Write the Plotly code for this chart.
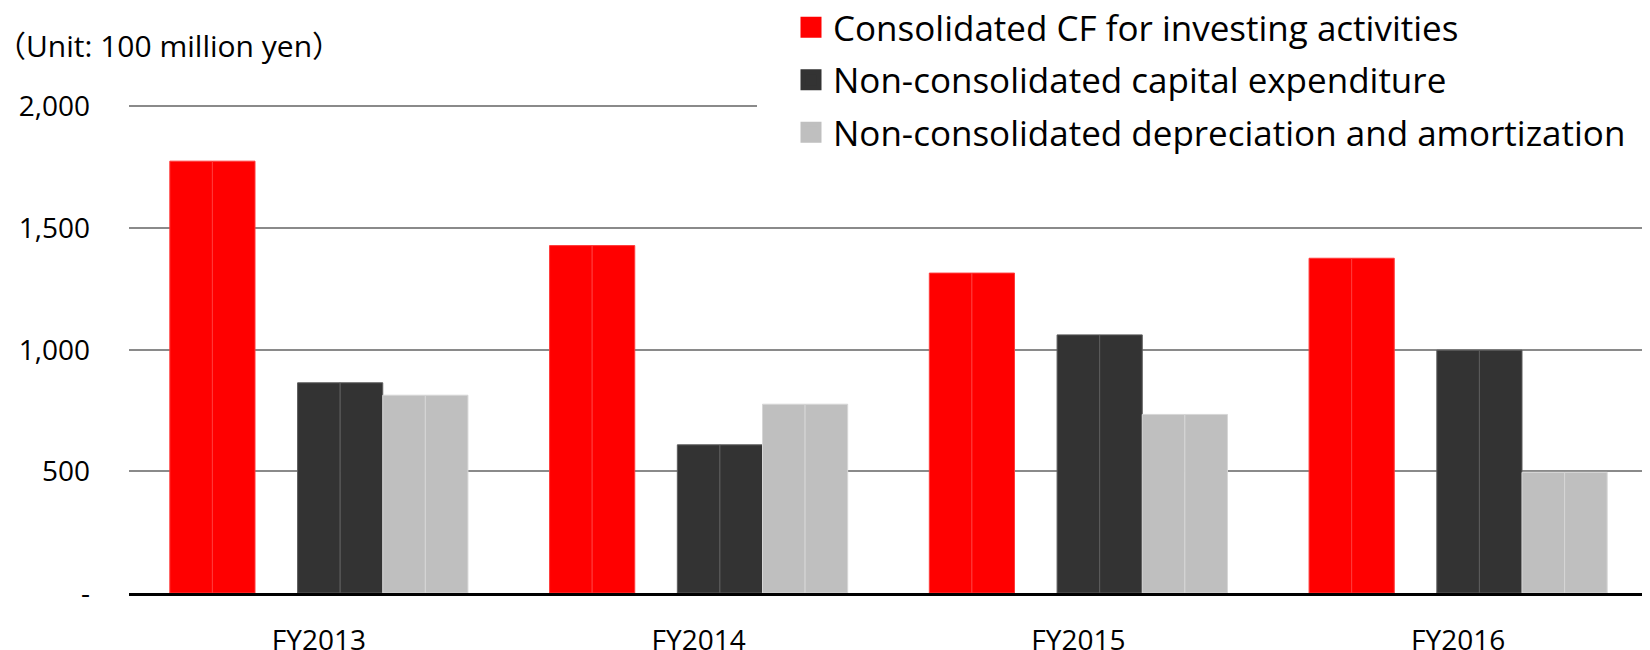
import plotly.graph_objects as go

# ---- data (unit: 100 million yen) ----
categories = ["FY2013", "FY2014", "FY2015", "FY2016"]
cf_investing = [1775, 1428, 1315, 1376]
capex = [864, 609, 1061, 998]
depreciation = [813, 776, 734, 496]

series_names = [
    "Consolidated CF for investing activities",
    "Non-consolidated capital expenditure",
    "Non-consolidated depreciation and amortization",
]
y_tick_values = [0, 500, 1000, 1500, 2000]
y_tick_labels = ["-", "500", "1,000", "1,500", "2,000"]
unit_label = "（Unit: 100 million yen）"

# ---- styles ----
RED, RED_EDGE = "#ff0000", "#ff3a3a"
DARK, DARK_EDGE = "#333333", "#5c5c5c"
GRAY, GRAY_EDGE = "#bfbfbf", "#d6d6d6"
FONT = "'Open Sans', 'Noto Sans CJK JP', sans-serif"

# the page body has an 8px margin, so figure coordinates are screen coordinates - 8
W, H = 1650, 650
ML, MR, MT, MB = 121, 10, 96, 65
PW = W - ML - MR
PH = H - MT - MB

fig = go.Figure()


def half_bar(values, color, edge, group):
    return go.Bar(
        x=categories, y=values, legendgroup=group, showlegend=False,
        marker=dict(color=color, line=dict(color=edge, width=1)),
        hovertemplate="%{x}: %{y:,}<extra></extra>",
    )


# each series is drawn as a twin column, with one empty slot after the red pair
fig.add_trace(half_bar(cf_investing, RED, RED_EDGE, "s1"))
fig.add_trace(half_bar(cf_investing, RED, RED_EDGE, "s1"))
fig.add_trace(go.Bar(x=categories, y=[None] * len(categories), showlegend=False,
                     hoverinfo="skip", marker=dict(line=dict(width=0))))
fig.add_trace(half_bar(capex, DARK, DARK_EDGE, "s2"))
fig.add_trace(half_bar(capex, DARK, DARK_EDGE, "s2"))
fig.add_trace(half_bar(depreciation, GRAY, GRAY_EDGE, "s3"))
fig.add_trace(half_bar(depreciation, GRAY, GRAY_EDGE, "s3"))

# legend entries (square swatches)
for name, color, group in zip(series_names, [RED, DARK, GRAY], ["s1", "s2", "s3"]):
    fig.add_trace(go.Scatter(
        x=[None], y=[None], mode="markers", name=name, legendgroup=group,
        marker=dict(symbol="square", size=16, color=color, line=dict(color=color, width=5)),
        hoverinfo="skip",
    ))

LEG_LEFT = 781
fig.update_layout(
    width=W, height=H,
    margin=dict(l=ML, r=MR, t=MT, b=MB, pad=0, autoexpand=False),
    paper_bgcolor="white", plot_bgcolor="white",
    barmode="group", bargap=0.215, bargroupgap=0,
    font=dict(family=FONT, color="black", size=28),
    showlegend=True,
    legend=dict(
        x=(LEG_LEFT - ML) / PW, xanchor="left",
        y=1 + (MT + 10) / PH, yanchor="top",
        bgcolor="white", borderwidth=0,
        font=dict(family=FONT, size=35, color="black"),
        tracegroupgap=4, itemwidth=34,
    ),
    xaxis=dict(
        type="category", showgrid=False, zeroline=False, automargin=False,
        showline=True, linecolor="black", linewidth=3,
        ticks="", tickfont=dict(size=28), ticklabelstandoff=20,
    ),
    yaxis=dict(
        range=[0, 2010], tickvals=y_tick_values, ticktext=y_tick_labels,
        showgrid=True, gridcolor="#8a8a8a", gridwidth=1.5, automargin=False,
        zeroline=False, showline=False, ticks="",
        tickfont=dict(size=28), ticklabelstandoff=38,
    ),
    # white legend box area (hides the top gridline behind the legend block)
    shapes=[dict(
        type="rect", xref="paper", yref="y", layer="above",
        x0=(749 - ML) / PW, x1=1, y0=1960, y1=2010,
        fillcolor="white", line=dict(width=0),
    )],
    annotations=[dict(
        text=unit_label, xref="paper", yref="paper",
        x=(-14 - ML) / PW, xanchor="left",
        y=1 + (MT - 38) / PH, yanchor="middle",
        showarrow=False, font=dict(family=FONT, size=30, color="black"),
    )],
)

fig.write_html("out.html")
